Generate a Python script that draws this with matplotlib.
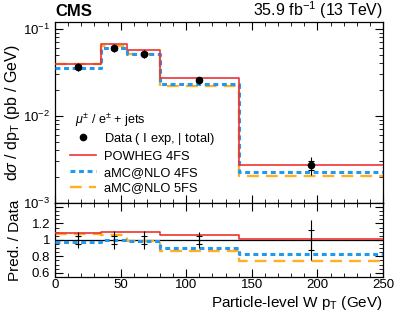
import matplotlib
matplotlib.use("Agg")
import matplotlib.pyplot as plt
import numpy as np
from matplotlib.ticker import MultipleLocator, LogLocator, NullFormatter, FixedLocator
from matplotlib.lines import Line2D

plt.rcParams['font.family'] = ['Liberation Sans', 'DejaVu Sans']
plt.rcParams['mathtext.fontset'] = 'custom'
plt.rcParams['mathtext.rm'] = 'Liberation Sans'
plt.rcParams['mathtext.it'] = 'Liberation Sans:italic'

# bins (GeV)
bin_edges = [0, 35, 55, 80, 140, 250]
bin_centers = [17.5, 45, 67.5, 110, 195]

# measured cross section (pb/GeV)
data = [0.0367, 0.0605, 0.0520, 0.0255, 0.00272]
rel_err_total = [0.10, 0.105, 0.105, 0.10, 0.24]
rel_err_exp = [0.05, 0.045, 0.05, 0.05, 0.12]

# predictions / data ratios
ratio_powheg4 = [1.08, 1.10, 1.09, 1.06, 1.01]
ratio_amc4 = [0.975, 1.00, 0.99, 0.905, 0.83]
ratio_amc5 = [1.07, 1.055, 0.99, 0.86, 0.74]

data = np.array(data)
pred_powheg4 = data * np.array(ratio_powheg4)
pred_amc4 = data * np.array(ratio_amc4)
pred_amc5 = data * np.array(ratio_amc5)

c_red = '#ee3333'
c_blue = '#2299ee'
c_orange = '#ffb020'

fig = plt.figure(figsize=(3.99, 3.22), dpi=100)
ax = fig.add_axes([0.138, 0.370, 0.822, 0.562])
axr = fig.add_axes([0.138, 0.140, 0.822, 0.230], sharex=ax)

def step(a, vals, **kw):
    v = list(vals) + [vals[-1]]
    a.step(bin_edges, v, where='post', **kw)

step(ax, pred_amc5, color=c_orange, lw=1.7, ls=(0, (5, 3)), label='aMC@NLO 5FS', zorder=2)
step(ax, pred_amc4, color=c_blue, lw=2.2, ls=(0, (1.6, 1.2)), label='aMC@NLO 4FS', zorder=3)
step(ax, pred_powheg4, color=c_red, lw=1.2, label='POWHEG 4FS', zorder=4)

err_tot = data * np.array(rel_err_total)
err_exp = data * np.array(rel_err_exp)
ax.errorbar(bin_centers, data, yerr=err_tot, fmt='o', color='black', ms=4.5, elinewidth=0.8, capsize=0, zorder=6)
ax.errorbar(bin_centers, data, yerr=err_exp, fmt='none', ecolor='black', elinewidth=0.8, capsize=2.5, capthick=0.8, zorder=6)

ax.set_yscale('log')
ax.set_ylim(1e-3, 0.12)
ax.set_xlim(0, 250)
ax.set_ylabel(r'd$\sigma$ / dp$_{\mathrm{T}}$ (pb / GeV)', fontsize=11.5)
ax.yaxis.set_label_coords(-0.10, 0.5)

# legend
ax.text(0.06, 0.455, r'$\mu^{\pm}$ / e$^{\pm}$ + jets', transform=ax.transAxes, fontsize=9, va='center')
handles, labels = ax.get_legend_handles_labels()
hmap = dict(zip(labels, handles))
dh = Line2D([], [], marker='o', color='black', ls='none', ms=4.5)
leg = ax.legend([dh, hmap['POWHEG 4FS'], hmap['aMC@NLO 4FS'], hmap['aMC@NLO 5FS']],
                [r'Data ( $\mathsf{I}$ exp, $|$ total)', 'POWHEG 4FS', 'aMC@NLO 4FS', 'aMC@NLO 5FS'],
                loc='upper left', bbox_to_anchor=(0.03, 0.427), frameon=False, fontsize=9.3,
                handlelength=2.0, handletextpad=0.65, labelspacing=0.3, borderaxespad=0)

for a in (ax, axr):
    a.tick_params(which='both', direction='in', top=True, right=True, labelsize=9.5)
    a.tick_params(which='major', length=6, width=0.8)
    a.tick_params(which='minor', length=3, width=0.6)
    a.xaxis.set_major_locator(MultipleLocator(50))
    a.xaxis.set_minor_locator(MultipleLocator(10))
    for s in a.spines.values():
        s.set_linewidth(0.9)
axr.tick_params(axis='x', which='both', pad=1.5, labelsize=9.5)
ax.yaxis.set_major_locator(LogLocator(base=10, numticks=10))
ax.yaxis.set_minor_locator(LogLocator(base=10, subs=np.arange(2, 10), numticks=20))
ax.yaxis.set_minor_formatter(NullFormatter())
plt.setp(ax.get_xticklabels(), visible=False)

# ratio panel
axr.axhline(1.0, color='black', lw=0.9, zorder=1)
step(axr, ratio_amc5, color=c_orange, lw=1.7, ls=(0, (5, 3)), zorder=2)
step(axr, ratio_amc4, color=c_blue, lw=2.2, ls=(0, (1.6, 1.2)), zorder=3)
step(axr, ratio_powheg4, color=c_red, lw=1.2, zorder=4)
ones = np.ones(len(bin_centers))
axr.errorbar(bin_centers, ones, yerr=rel_err_total, fmt='none', ecolor='black', elinewidth=0.8, capsize=0, zorder=6)
axr.errorbar(bin_centers, ones, yerr=rel_err_exp, fmt='none', ecolor='black', elinewidth=0.8, capsize=2.5, capthick=0.8, zorder=6)
axr.set_ylim(0.55, 1.45)
axr.yaxis.set_major_locator(FixedLocator([0.6, 0.8, 1.0, 1.2, 1.4]))
axr.yaxis.set_minor_locator(MultipleLocator(0.05))
axr.set_yticklabels(['0.6', '0.8', '1', '1.2', ''])
axr.set_ylabel('Pred. / Data', fontsize=11)
axr.yaxis.set_label_coords(-0.10, 0.5)
axr.set_xlabel(r'Particle-level W p$_{\mathrm{T}}$ (GeV)', fontsize=11)
axr.xaxis.set_label_coords(1.0, -0.225)
axr.xaxis.label.set_horizontalalignment('right')

fig.text(0.138, 1 - 16 / 322, 'CMS', fontsize=12, fontweight='bold', ha='left', va='baseline')
fig.text(0.960, 1 - 16 / 322, r'35.9 fb$^{\mathregular{-1}}$ (13 TeV)', fontsize=11.5, ha='right', va='baseline')

fig.savefig('out.png', dpi=100)
